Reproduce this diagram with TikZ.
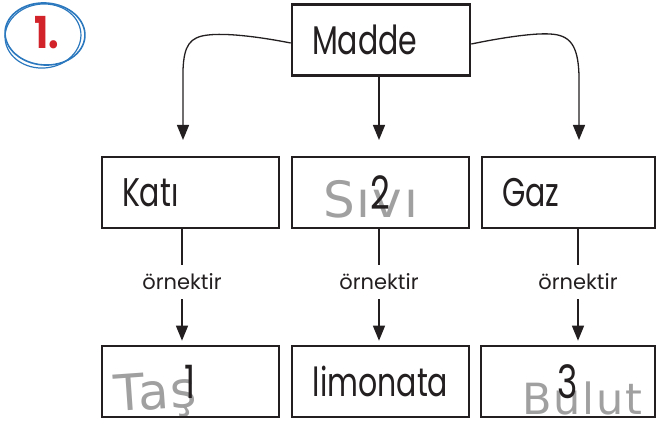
\documentclass[tikz,border=0pt]{standalone}
\usepackage{fontspec}
\setmainfont{Poppins}
\newfontfamily\geo{Poppins}[FakeStretch=0.75]
\newfontfamily\hand{DejaVu Sans}[LetterSpace=4]
\newfontfamily\badgefont{Poppins}[FakeStretch=0.85]
\usetikzlibrary{arrows.meta}
\definecolor{ink}{HTML}{231F20}
\definecolor{pen}{HTML}{A0A0A0}
\definecolor{badgeblue}{HTML}{2B78BE}
\definecolor{badgered}{HTML}{D2232A}
\begin{document}
\begin{tikzpicture}[x=1pt,y=-1pt,
  box/.style={draw=ink, line width=2.6pt, minimum height=71pt, inner xsep=20pt, inner ysep=0pt,
    font=\geo\fontsize{40}{40}\selectfont, text=ink},
  conn/.style={draw=ink, line width=1.3pt},
  tip/.style={-{Triangle[length=15pt,width=12pt]}},
  lbl/.style={font=\fontsize{21}{21}\selectfont, text=ink, inner sep=0pt, minimum height=34pt},
  hw/.style={font=\hand\fontsize{50}{50}\selectfont, text=pen, anchor=base west, inner sep=0pt}
]
\useasboundingbox (0,0) rectangle (657,436);

% badge
\draw[badgeblue, line width=1.6pt] (45,34) ellipse [x radius=40, y radius=31, rotate=-4];
\draw[badgeblue, line width=1.2pt] (43,36) ellipse [x radius=38, y radius=32, rotate=5];
\node[font=\badgefont\bfseries\fontsize{44}{44}\selectfont, text=badgered, inner sep=0pt] (badge) at (47,33) {1.};

% handwriting (behind the printed digits)
\node[hw] (hsivi) at (323,217) {Sıvı};
\node[hw, rotate=4] (htas) at (115,412) {Taş};
\node[hw, font=\hand\fontsize{43}{43}\selectfont] (hbulut) at (522,414) {Bulut};

% boxes
\node[box, text width=138pt, align=left] (madde) at (381,40) {Madde};
\node[box, text width=137pt, align=left] (kati) at (190.5,192.5) {Katı};
\node[box, minimum width=177pt] (sivi) at (380.5,192.5) {\geo\fontsize{46}{46}\selectfont 2};
\node[box, text width=133pt, align=left] (gaz) at (568.5,192.5) {Gaz};
\node[box, minimum width=177pt] (tas) at (190.5,381.5) {\geo\fontsize{46}{46}\selectfont 1};
\node[box, minimum width=177pt] (limon) at (380.5,381.5) {limonata};
\node[box, minimum width=174pt] (bulut) at (568,381.5) {\geo\fontsize{46}{46}\selectfont 3};

% top connectors
\coordinate (t1) at (183,140);
\coordinate (t2) at (379,140);
\coordinate (t3) at (579,140);
\draw[conn,tip] ([yshift=-3pt]madde.west) .. controls (255,36) and (225,33) .. (208,35)
  .. controls (190,37) and (184,45) .. (183,70) -- (t1);
\draw[conn,tip] (madde.south -| t2) -- (t2);
\draw[conn,tip] ([yshift=-4pt]madde.east) .. controls (505,37) and (535,33) .. (550,34)
  .. controls (570,35) and (578,45) .. (579,75) -- (t3);

% lower connectors
\node[lbl] (o1) at (182,282) {örnektir};
\node[lbl] (o2) at (379,282) {örnektir};
\node[lbl] (o3) at (578,282) {örnektir};
\draw[conn] (kati.south -| o1) -- (o1.north);
\draw[conn] (sivi.south -| o2) -- (o2.north);
\draw[conn] (gaz.south -| o3) -- (o3.north);
\draw[conn,tip,shorten >=4pt] (o1.south) -- (tas.north -| o1);
\draw[conn,tip,shorten >=4pt] (o2.south) -- (limon.north -| o2);
\draw[conn,tip,shorten >=4pt] (o3.south) -- (bulut.north -| o3);
\end{tikzpicture}
\end{document}
